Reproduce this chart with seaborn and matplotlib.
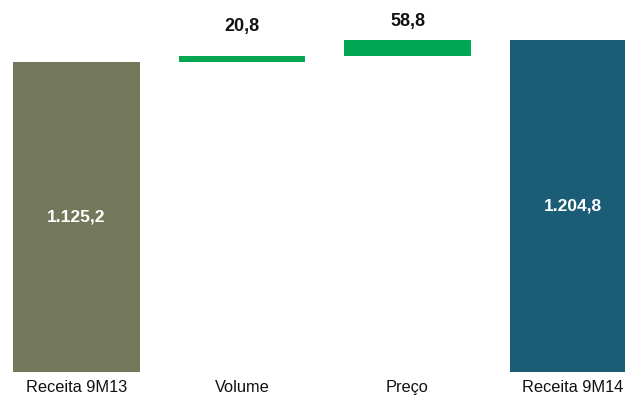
import matplotlib
matplotlib.use("Agg")
import matplotlib.pyplot as plt
import seaborn as sns
import numpy as np

# Revenue bridge 9M13 -> 9M14 (R$ million)
categories = ["Receita 9M13", "Volume", "Preco", "Receita 9M14"]
tick_labels = ["Receita 9M13", "Volume", "Preço", "Receita 9M14"]
values = [1125.2, 20.8, 58.8, 1204.8]
is_total = [True, False, False, True]
value_texts = ["1.125,2", "20,8", "58,8", "1.204,8"]

bar_colors = ["#74785A", "#00A651", "#00A651", "#1B5D77"]

# floating bases for the increments, zero for totals
bases = []
running = 0.0
for v, tot in zip(values, is_total):
    if tot:
        bases.append(0.0)
        running = v
    else:
        bases.append(running)
        running += v

sns.set_theme(style="white")
plt.rcParams["font.family"] = ["Liberation Sans", "DejaVu Sans"]

fig = plt.figure(figsize=(6.25, 4.01), dpi=100)
ax = fig.add_axes([0, 29 / 401, 1, 372 / 401])

sns.barplot(x=categories, y=values, bottom=bases, width=0.765,
            color=bar_colors[0], linewidth=0, ax=ax)
for patch, c in zip(ax.patches, bar_colors):
    patch.set_facecolor(c)
    patch.set_edgecolor("none")

# labels: totals inside in white, increments above the bar
label_offsets = [0, 15, 7, 0]  # points above the floating bars
for i, (v, b, tot, txt) in enumerate(zip(values, bases, is_total, value_texts)):
    if tot:
        ax.text(i, b + v / 2, txt, ha="center", va="center", color="white",
                fontsize=12.5, fontweight="bold")
    else:
        ax.annotate(txt, xy=(i, b + v), xytext=(0, label_offsets[i]),
                    textcoords="offset points", ha="center", va="bottom",
                    color="#111111", fontsize=13, fontweight="bold")

ax.set_xlim(-0.462, 3.314)
ax.set_ylim(0, 1350)
ax.set_xticks(range(len(categories)))
ax.set_xticklabels(tick_labels, fontsize=11.8, color="#111111")
ax.tick_params(axis="x", length=0, pad=6)
ax.set_yticks([])
ax.set_xlabel("")
ax.set_ylabel("")
for s in ax.spines.values():
    s.set_visible(False)

fig.savefig("out.png", dpi=100, facecolor="white")
